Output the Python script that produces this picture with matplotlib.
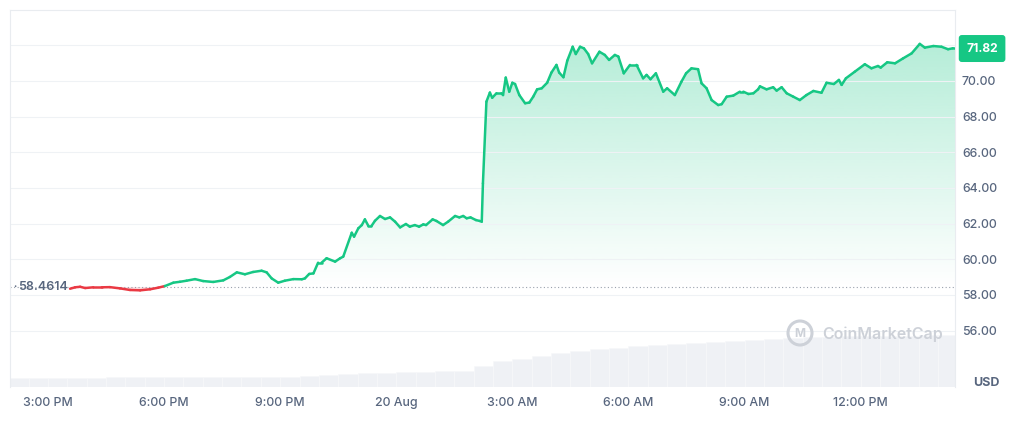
import numpy as np
import matplotlib
matplotlib.use('Agg')
import matplotlib.pyplot as plt
from matplotlib.collections import LineCollection
from matplotlib.patches import Ellipse
from matplotlib.path import Path

plt.rcParams['font.family'] = ['Inter', 'DejaVu Sans']

# time in hours after 3:00 PM (19 Aug), price in USD
t = [0.57, 0.70, 0.83, 0.96, 1.17, 1.39, 1.60, 1.86, 2.12, 2.38, 2.64, 2.85, 3.02,
     3.24, 3.41, 3.58, 3.80, 4.01, 4.27, 4.53, 4.70, 4.88, 5.09, 5.30, 5.52, 5.65, 5.78,
     5.95, 6.12, 6.34, 6.56, 6.64, 6.75, 6.86, 6.98, 7.07, 7.20, 7.42, 7.55, 7.63, 7.85,
     7.91, 8.02, 8.11, 8.19, 8.28, 8.36, 8.45, 8.58, 8.71, 8.84, 8.97, 9.10, 9.25, 9.35,
     9.48, 9.59, 9.70, 9.77, 9.94, 10.04, 10.21, 10.34, 10.52, 10.63, 10.73, 10.82, 10.92,
     11.06, 11.16, 11.21,
     11.24, 11.33, 11.42, 11.48, 11.59, 11.72, 11.76, 11.83, 11.92, 12.00, 12.07, 12.18,
     12.33, 12.44, 12.54, 12.64, 12.76, 12.90, 13.01, 13.14, 13.21, 13.32, 13.42, 13.56,
     13.64, 13.75, 13.85, 13.96, 14.06, 14.25, 14.39, 14.50, 14.65, 14.74, 14.88, 15.04,
     15.21, 15.38, 15.47, 15.57, 15.71, 15.90, 16.00, 16.20, 16.37, 16.49, 16.63, 16.80,
     16.89, 17.02, 17.15, 17.32, 17.41, 17.54, 17.71, 17.88, 17.97, 18.10, 18.23, 18.35,
     18.40,
     18.57, 18.74, 18.83, 18.96, 19.09, 19.26, 19.43, 19.60, 19.78, 19.99, 20.12, 20.31,
     20.44, 20.51, 20.62, 20.85, 21.11, 21.28, 21.45, 21.52, 21.69, 21.89, 22.10, 22.32,
     22.53, 22.66, 22.88, 23.09, 23.26, 23.38, 23.44]
price = [58.35, 58.43, 58.46, 58.39, 58.43, 58.43, 58.44, 58.37, 58.28, 58.26, 58.32, 58.41, 58.50,
         58.69, 58.74, 58.80, 58.89, 58.78, 58.73, 58.82, 59.01, 59.27, 59.16, 59.29, 59.36, 59.27, 58.93,
         58.69, 58.80, 58.89, 58.88, 58.93, 59.18, 59.21, 59.81, 59.81, 60.06, 59.87, 60.06, 60.15, 61.49,
         61.27, 61.74, 61.92, 62.24, 61.87, 61.87, 62.16, 62.43, 62.26, 62.35, 62.11, 61.79, 61.98, 61.83,
         61.92, 61.83, 61.96, 61.92, 62.24, 62.15, 61.92, 62.11, 62.43, 62.35, 62.43, 62.30, 62.35,
         62.20, 62.15, 62.11,
         64.26, 68.84, 69.35, 69.06, 69.31, 69.31, 69.21, 70.19, 69.40, 69.90, 69.83, 69.21,
         68.75, 68.79, 69.12, 69.53, 69.59, 69.90, 70.47, 70.90, 70.47, 70.21, 71.14, 71.92,
         71.51, 71.92, 71.83, 71.51, 70.99, 71.64, 71.46, 71.18, 71.46, 71.37, 70.43, 70.90,
         70.90, 70.15, 70.34, 70.10, 70.43, 69.40, 69.59, 69.21, 69.96, 70.43, 70.71, 70.66,
         69.87, 69.59, 68.93, 68.65, 68.70, 69.12, 69.18, 69.40, 69.40, 69.27, 69.31, 69.53,
         69.70,
         69.53, 69.65, 69.46, 69.65, 69.31, 69.12, 68.93, 69.21, 69.44, 69.34, 69.90, 69.83,
         70.06, 69.78, 70.15, 70.52, 70.94, 70.71, 70.84, 70.75, 71.05, 70.99, 71.27, 71.55,
         72.08, 71.87, 71.96, 71.92, 71.78, 71.83, 71.82]
base = 58.4614
last = 71.82

# rolling volume, half-hour bars (relative units)
vol_t = np.arange(-0.75, 23.5, 0.5)
vol = [9.5, 9.5, 9.5, 9.5, 9.5, 9.6, 9.6, 9.7, 9.8, 10.0, 10.0, 10.1, 10.2, 10.3, 10.5,
       11.0, 12.0, 13.0, 13.8, 14.5, 15.0, 15.4, 15.8, 16.2, 21.0, 26.0, 28.5, 31.0, 34.0,
       36.0, 38.0, 39.5, 41.0, 42.0, 43.0, 44.0, 45.0, 46.5, 47.5, 48.5, 49.5, 50.0, 50.5,
       50.8, 51.0, 51.2, 51.4, 51.6, 52.5]

tick_pos = [0, 3, 6, 9, 12, 15, 18, 21]
tick_lab = ['3:00 PM', '6:00 PM', '9:00 PM', '20 Aug', '3:00 AM', '6:00 AM', '9:00 AM', '12:00 PM']
yticks = [56, 58, 60, 62, 64, 66, 68, 70, 72]

green = '#16c784'
red = '#ea3943'
grey = '#58667e'

t = np.array(t)
price = np.array(price)

fig = plt.figure(figsize=(10.15, 4.22), dpi=100)
pos = [10/1015, 35/422, 945/1015, 377/422]
axv = fig.add_axes(pos)
ax = fig.add_axes(pos, sharex=axv)
ax.patch.set_visible(False)

# volume
axv.bar(vol_t, vol, width=0.5, color='#eff1f5', edgecolor='#f7f8fa', linewidth=0.5)
axv.set_ylim(0, 377)
axv.set_yticks([])
for s in axv.spines.values():
    s.set_visible(False)
axv.tick_params(axis='x', length=0, labelbottom=False)

# gradient fill above the base price
poly = ax.fill_between(t, price, base, where=price >= base, interpolate=True,
                       facecolor='none', edgecolor='none')
clip = Path.make_compound_path(*poly.get_paths())
rgba = np.zeros((256, 1, 4))
rgba[..., :3] = matplotlib.colors.to_rgb(green)
rgba[..., 3] = np.linspace(0, 0.32, 256)[:, None]
img = ax.imshow(rgba, extent=[t[0], t[-1], base, 72.2], origin='lower',
                aspect='auto', zorder=1, interpolation='bilinear')
img.set_clip_path(clip, transform=ax.transData)
ax.fill_between(t, price, base, where=price < base, interpolate=True,
                color=red, alpha=0.18, linewidth=0, zorder=1)

# price line, red below base price
pts = np.column_stack([t, price])
segs = np.stack([pts[:-1], pts[1:]], axis=1)
mid = (price[:-1] + price[1:]) / 2
cols = [red if m < base else green for m in mid]
lc = LineCollection(segs, colors=cols, linewidths=1.8, capstyle='round', joinstyle='round', zorder=3)
ax.add_collection(lc)

ax.axhline(base, color='#9aa1ad', linestyle=(0, (1, 2.2)), linewidth=0.8, zorder=2)

ax.set_xlim(-0.982, 23.44)
ax.set_ylim(52.84, 73.98)

ax.set_yticks(yticks)
ax.set_yticklabels([f'{v:.2f}' if v < 72 else '' for v in yticks], fontweight='medium')
ax.set_xticks(tick_pos)
ax.set_xticklabels(tick_lab, fontweight='medium')
ax.yaxis.tick_right()
ax.tick_params(axis='y', length=0, pad=5, labelsize=8.9, labelcolor=grey)
ax.tick_params(axis='x', length=0, pad=7.5, labelsize=8.9, labelcolor=grey)
ax.grid(axis='y', color='#eff2f5', linewidth=0.8, zorder=0)
for s in ax.spines.values():
    s.set_color('#e9ecf0')
    s.set_linewidth(0.8)
ax.spines['bottom'].set_visible(False)

# left base price label
ax.text(0.003, base, '\u2022', transform=ax.get_yaxis_transform(), fontsize=4,
        color=grey, va='center', ha='left')
ax.text(0.0085, base, f'{base:.4f}', transform=ax.get_yaxis_transform(), fontsize=9,
        color=grey, va='center', ha='left', fontweight='semibold')

# current price tag
ax.annotate(f'{last:.2f}', xy=(1, last), xycoords=('axes fraction', 'data'),
            xytext=(19.5, 0), textcoords='offset points', ha='center', va='center',
            fontsize=8.7, fontweight='bold', color='white', annotation_clip=False,
            bbox=dict(boxstyle='round,pad=0.62,rounding_size=0.25', fc=green, ec='none'))

fig.text(986/1015, 1 - 383/422, 'USD', fontsize=9, fontweight='bold', color=grey,
         ha='center', va='center')

# watermark
fig.add_artist(Ellipse((800/1015, 1 - 333/422), 24/1015, 24/422, transform=fig.transFigure,
                       fill=False, ec='#cdd1d8', lw=2.2, zorder=5))
fig.text(800/1015, 1 - 334/422, 'M', fontsize=8.5, fontweight='bold', color='#cdd1d8',
         ha='center', va='center', zorder=5)
fig.text(822/1015, 1 - 334/422, 'CoinMarketCap', fontsize=11.5, fontweight='semibold',
         color='#cdd1d8', ha='left', va='center', zorder=5)

fig.savefig('out.png', dpi=100, facecolor='white')
